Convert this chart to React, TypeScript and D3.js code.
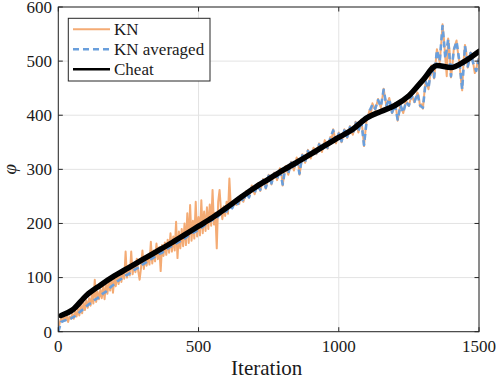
import React from 'react';
import * as d3 from 'd3';

const W = 498;
const H = 379;
const plot = { left: 58.3, right: 479, top: 7, bottom: 331.7 };

const xTicks = [0, 500, 1000, 1500];
const yTicks = [0, 100, 200, 300, 400, 500, 600];

// KN, one reading every 5 iterations (0..1500)
const knStep = 5;
const knValues = [
  3, 16, 25, 19, 27, 21, 30, 18, 28, 24,
  33, 24, 38, 28, 42, 30, 50, 34, 55, 40,
  58, 44, 62, 48, 70, 52, 96, 55, 74, 60,
  78, 62, 84, 60, 90, 70, 94, 76, 98, 72,
  100, 84, 104, 88, 108, 92, 116, 98, 148, 100,
  122, 104, 148, 106, 125, 110, 135, 112, 96, 118,
  150, 116, 138, 122, 142, 124, 166, 126, 150, 130,
  163, 134, 156, 112, 160, 140, 165, 142, 170, 146,
  182, 148, 176, 150, 203, 136, 185, 154, 190, 158,
  200, 160, 219, 164, 234, 168, 205, 172, 240, 176,
  212, 178, 243, 182, 222, 186, 230, 190, 235, 196,
  262, 198, 220, 154, 240, 262, 225, 208, 232, 214,
  240, 218, 283, 232, 230, 236, 242, 234, 240, 236,
  252, 246, 240, 250, 260, 252, 248, 260, 270, 262,
  254, 264, 274, 268, 260, 270, 282, 276, 264, 278,
  290, 282, 272, 284, 294, 288, 280, 290, 302, 296,
  270, 290, 306, 298, 290, 302, 314, 308, 298, 310,
  322, 314, 290, 306, 328, 322, 312, 322, 336, 330,
  320, 330, 340, 336, 328, 338, 348, 342, 332, 342,
  354, 348, 338, 348, 360, 356, 374, 362, 348, 356,
  368, 360, 350, 362, 374, 368, 358, 368, 380, 372,
  364, 374, 388, 380, 368, 380, 392, 372, 343, 370,
  394, 400, 410, 404, 422, 416, 410, 420, 430, 422,
  414, 430, 449, 432, 416, 424, 432, 420, 404, 412,
  422, 410, 390, 404, 420, 412, 404, 416, 427, 422,
  417, 428, 438, 430, 424, 432, 442, 436, 416, 420,
  412, 440, 464, 456, 448, 470, 492, 480, 468, 495,
  522, 508, 498, 530, 568, 540, 505, 472, 542, 520,
  470, 490, 522, 530, 538, 515, 498, 470, 446, 500,
  530, 515, 488, 500, 516, 508, 494, 478, 484, 500,
  506,
];

// KN averaged, one reading every 10 iterations (0..1500)
const avgStep = 10;
const avgValues = [
  0, 18, 20, 22, 23, 26, 29, 33, 38, 42,
  47, 51, 54, 59, 62, 66, 71, 74, 79, 84,
  88, 93, 96, 100, 104, 106, 110, 114, 117, 119,
  124, 127, 131, 134, 137, 141, 144, 146, 151, 154,
  157, 160, 163, 166, 170, 172, 176, 180, 183, 185,
  189, 192, 196, 199, 204, 207, 206, 213, 218, 222,
  222, 232, 228, 240, 236, 250, 240, 258, 248, 266,
  256, 272, 262, 280, 266, 288, 274, 292, 282, 300,
  272, 304, 292, 312, 300, 320, 292, 326, 314, 334,
  322, 338, 330, 346, 334, 352, 340, 358, 372, 350,
  366, 352, 372, 360, 378, 366, 386, 370, 390, 345,
  392, 408, 420, 412, 428, 416, 447, 418, 430, 405,
  420, 392, 418, 405, 425, 418, 436, 425, 440, 418,
  414, 462, 450, 490, 470, 520, 500, 565, 505, 540,
  472, 520, 536, 500, 448, 528, 490, 515, 495, 482,
  505,
];

const cheatIters = [10, 50, 100, 150, 200, 250, 300, 350, 400, 450, 500, 550, 600, 650, 700, 750, 800, 850, 900, 950, 1000, 1050, 1100, 1150, 1200, 1250, 1300, 1350, 1400, 1450, 1500];
const cheatValues = [30, 40, 67, 86, 103, 118, 133, 148, 163, 179, 195, 211, 229, 248, 266, 282, 298, 313, 328, 344, 359, 374, 395, 407, 418, 436, 465, 492, 488, 500, 518];

const legendLabels = ['KN', 'KN averaged', 'Cheat'];

const orange = '#F4AB74';
const blue = '#6A9FDC';
const axisColor = '#262626';
const textColor = '#1a1a1a';
const serif = { fontFamily: "'Liberation Serif', serif" };

export default function App() {
  const x = d3.scaleLinear().domain([0, 1500]).range([plot.left, plot.right]);
  const y = d3.scaleLinear().domain([0, 600]).range([plot.bottom, plot.top]);

  const kn = knValues.map((v, i) => [i * knStep, v] as [number, number]);
  const avg = avgValues.map((v, i) => [i * avgStep, v] as [number, number]);
  const cheat = cheatIters.map((it, i) => [it, cheatValues[i]] as [number, number]);

  const line = d3.line<[number, number]>().x(d => x(d[0])).y(d => y(d[1]));
  const smooth = d3.line<[number, number]>().x(d => x(d[0])).y(d => y(d[1])).curve(d3.curveMonotoneX);

  const tickLen = 4.5;
  const legend = { x0: 68.3, y0: 18.3, x1: 210, y1: 81 };
  const legendRows = [29.3, 49.3, 69.3];

  return (
    <div style={{ position: 'fixed', left: 0, top: 0 }}>
      <svg width={W} height={H} style={{ display: 'block', background: '#fff' }}>
        <defs>
          <clipPath id="plotClip">
            <rect x={plot.left} y={plot.top} width={plot.right - plot.left} height={plot.bottom - plot.top} />
          </clipPath>
        </defs>

        {/* grid */}
        <g stroke="#e3e3e3" strokeWidth={1}>
          {xTicks.map(t => (
            <line key={'gx' + t} x1={x(t)} x2={x(t)} y1={plot.top} y2={plot.bottom} />
          ))}
          {yTicks.map(t => (
            <line key={'gy' + t} x1={plot.left} x2={plot.right} y1={y(t)} y2={y(t)} />
          ))}
        </g>

        {/* series */}
        <g clipPath="url(#plotClip)" fill="none" strokeLinejoin="round">
          <path d={line(kn) || ''} stroke={orange} strokeWidth={2} />
          <path d={line(avg) || ''} stroke={blue} strokeWidth={2.6} strokeDasharray="6 4" />
          <path d={smooth(cheat) || ''} stroke="#000" strokeWidth={5.5} strokeLinecap="round" />
        </g>

        {/* box and ticks */}
        <rect x={plot.left} y={plot.top} width={plot.right - plot.left} height={plot.bottom - plot.top}
          fill="none" stroke={axisColor} strokeWidth={1} />
        <g stroke={axisColor} strokeWidth={1}>
          {xTicks.map(t => (
            <g key={'tx' + t}>
              <line x1={x(t)} x2={x(t)} y1={plot.bottom} y2={plot.bottom - tickLen} />
              <line x1={x(t)} x2={x(t)} y1={plot.top} y2={plot.top + tickLen} />
            </g>
          ))}
          {yTicks.map(t => (
            <g key={'ty' + t}>
              <line x1={plot.left} x2={plot.left + tickLen} y1={y(t)} y2={y(t)} />
              <line x1={plot.right} x2={plot.right - tickLen} y1={y(t)} y2={y(t)} />
            </g>
          ))}
        </g>

        {/* tick labels */}
        {xTicks.map(t => (
          <text key={'lx' + t} x={x(t)} y={352} textAnchor="middle" fontSize={17} fill={textColor} style={serif}>{t}</text>
        ))}
        {yTicks.map(t => (
          <text key={'ly' + t} x={52} y={y(t) + 5.8} textAnchor="end" fontSize={17} fill={textColor} style={serif}>{t}</text>
        ))}

        {/* axis titles */}
        <text x={(plot.left + plot.right) / 2 - 2} y={374.5} textAnchor="middle" fontSize={21} fill={textColor} style={serif}>
          Iteration
        </text>
        <text transform={`translate(16,${(plot.top + plot.bottom) / 2}) rotate(-90)`} textAnchor="middle"
          fontSize={19} fontStyle="italic" fill={textColor} style={serif}>
          φ
        </text>

        {/* legend */}
        <rect x={legend.x0} y={legend.y0} width={legend.x1 - legend.x0} height={legend.y1 - legend.y0}
          fill="#fff" stroke={axisColor} strokeWidth={1} />
        <line x1={73} x2={110} y1={legendRows[0]} y2={legendRows[0]} stroke={orange} strokeWidth={2} />
        <line x1={73} x2={110} y1={legendRows[1]} y2={legendRows[1]} stroke={blue} strokeWidth={2.6} strokeDasharray="6 4" />
        <line x1={73} x2={110} y1={legendRows[2]} y2={legendRows[2]} stroke="#000" strokeWidth={2.5} />
        {legendLabels.map((l, i) => (
          <text key={l} x={114} y={legendRows[i] + 5.2} fontSize={17} fill={textColor} style={serif}>{l}</text>
        ))}
      </svg>
    </div>
  );
}
